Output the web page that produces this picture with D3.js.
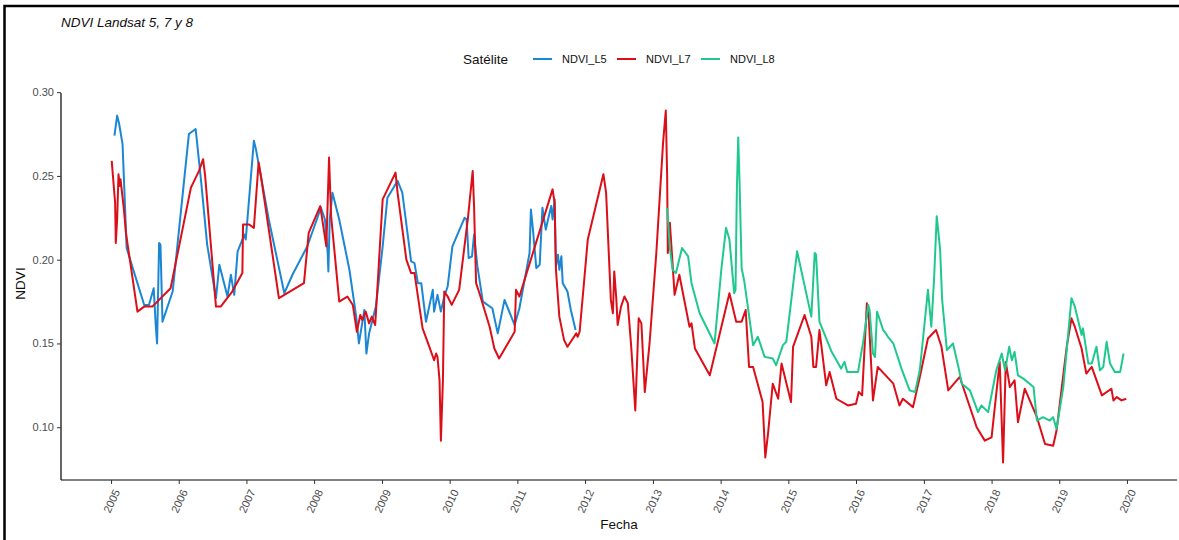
<!DOCTYPE html>
<html>
<head>
<meta charset="utf-8">
<script src="https://cdn.jsdelivr.net/npm/d3@7"></script>
<style>
  body { margin: 0; background: #fff; }
  svg { display: block; font-family: 'Liberation Sans', Arial, sans-serif; }
</style>
</head>
<body>
<script>
// fechas en años decimales, NDVI medio por escena

const fechaL5 = [2005.05,2005.09,2005.12,2005.17,2005.23,2005.29,2005.49,2005.56,2005.63,2005.66,
  2005.68,2005.71,2005.73,2005.76,2005.91,2006.15,2006.25,2006.33,2006.42,2006.55,
  2006.60,2006.72,2006.77,2006.82,2006.87,2006.97,2006.99,2007.11,2007.14,2007.24,
  2007.33,2007.56,2007.68,2007.90,2008.10,2008.16,2008.20,2008.21,2008.23,2008.27,
  2008.37,2008.52,2008.62,2008.66,2008.74,2008.77,2008.81,2008.91,2009.01,2009.08,
  2009.23,2009.30,2009.43,2009.48,2009.53,2009.58,2009.65,2009.75,2009.77,2009.82,
  2009.87,2009.92,2009.97,2010.04,2010.22,2010.25,2010.28,2010.33,2010.36,2010.41,
  2010.49,2010.63,2010.71,2010.81,2010.96,2011.03,2011.18,2011.20,2011.23,2011.28,
  2011.33,2011.37,2011.42,2011.47,2011.50,2011.52,2011.55,2011.57,2011.60,2011.62,
  2011.65,2011.67,2011.74,2011.79,2011.86]
const ndviL5 = [0.274,0.286,0.281,0.269,0.207,0.199,0.173,0.173,0.183,0.161,
  0.150,0.210,0.209,0.163,0.181,0.275,0.278,0.247,0.209,0.177,
  0.197,0.178,0.191,0.179,0.205,0.215,0.212,0.271,0.266,0.244,
  0.224,0.180,0.191,0.208,0.231,0.224,0.204,0.193,0.224,0.240,
  0.224,0.194,0.166,0.150,0.170,0.144,0.156,0.172,0.208,0.237,
  0.247,0.240,0.199,0.198,0.186,0.186,0.163,0.182,0.169,0.179,
  0.169,0.178,0.184,0.208,0.225,0.224,0.201,0.202,0.215,0.196,
  0.175,0.171,0.156,0.176,0.161,0.171,0.204,0.230,0.218,0.195,
  0.197,0.231,0.218,0.227,0.232,0.224,0.236,0.196,0.203,0.194,
  0.202,0.186,0.181,0.170,0.158]

const fechaL7 = [2005.01,2005.06,2005.07,2005.09,2005.11,2005.13,2005.14,2005.19,2005.22,2005.39,
  2005.49,2005.61,2005.88,2006.18,2006.30,2006.36,2006.39,2006.55,2006.62,2006.79,
  2006.94,2006.95,2007.04,2007.11,2007.18,2007.21,2007.48,2007.85,2007.92,2008.09,
  2008.18,2008.22,2008.25,2008.30,2008.37,2008.49,2008.57,2008.63,2008.68,2008.71,
  2008.76,2008.81,2008.85,2008.90,2009.01,2009.20,2009.23,2009.36,2009.43,2009.48,
  2009.60,2009.70,2009.77,2009.80,2009.82,2009.85,2009.87,2009.90,2009.92,2009.97,
  2010.03,2010.14,2010.27,2010.34,2010.36,2010.39,2010.44,2010.59,2010.66,2010.73,
  2010.96,2010.98,2011.03,2011.52,2011.55,2011.57,2011.62,2011.69,2011.74,2011.87,
  2011.89,2011.92,2012.04,2012.27,2012.31,2012.38,2012.41,2012.43,2012.46,2012.48,
  2012.53,2012.58,2012.63,2012.68,2012.74,2012.79,2012.83,2012.88,2012.95,2013.05,
  2013.15,2013.19,2013.21,2013.22,2013.25,2013.32,2013.39,2013.54,2013.57,2013.62,
  2013.84,2014.13,2014.23,2014.31,2014.37,2014.42,2014.48,2014.62,2014.66,2014.70,
  2014.77,2014.85,2014.90,2015.04,2015.07,2015.24,2015.34,2015.37,2015.41,2015.46,
  2015.56,2015.61,2015.71,2015.88,2016.00,2016.04,2016.09,2016.16,2016.19,2016.25,
  2016.32,2016.55,2016.64,2016.69,2016.84,2016.94,2017.06,2017.18,2017.26,2017.36,
  2017.53,2017.78,2017.90,2018.00,2018.12,2018.17,2018.21,2018.27,2018.34,2018.39,
  2018.49,2018.67,2018.79,2018.91,2018.96,2019.11,2019.18,2019.23,2019.33,2019.40,
  2019.48,2019.63,2019.77,2019.80,2019.85,2019.92,2019.99]
const ndviL7 = [0.259,0.234,0.210,0.224,0.251,0.244,0.248,0.230,0.216,0.169,
  0.172,0.172,0.183,0.243,0.253,0.260,0.250,0.172,0.172,0.181,
  0.192,0.221,0.221,0.219,0.258,0.251,0.177,0.186,0.216,0.232,
  0.208,0.261,0.226,0.205,0.175,0.178,0.173,0.157,0.167,0.164,
  0.169,0.162,0.166,0.161,0.236,0.252,0.240,0.200,0.192,0.192,
  0.159,0.148,0.140,0.144,0.142,0.128,0.092,0.128,0.181,0.178,
  0.173,0.182,0.225,0.253,0.232,0.186,0.180,0.160,0.147,0.141,
  0.157,0.182,0.178,0.242,0.234,0.194,0.166,0.152,0.148,0.156,
  0.154,0.157,0.212,0.251,0.240,0.176,0.168,0.193,0.177,0.161,
  0.172,0.178,0.174,0.148,0.110,0.165,0.162,0.121,0.150,0.204,
  0.270,0.289,0.250,0.204,0.222,0.179,0.191,0.160,0.162,0.147,
  0.131,0.180,0.163,0.163,0.170,0.136,0.136,0.115,0.082,0.096,
  0.126,0.117,0.138,0.115,0.148,0.167,0.154,0.136,0.136,0.158,
  0.125,0.133,0.117,0.113,0.114,0.121,0.119,0.174,0.164,0.116,
  0.136,0.126,0.113,0.117,0.112,0.130,0.153,0.158,0.148,0.122,
  0.130,0.100,0.092,0.094,0.139,0.079,0.139,0.124,0.128,0.103,
  0.123,0.106,0.090,0.089,0.098,0.148,0.165,0.160,0.147,0.132,
  0.136,0.119,0.123,0.116,0.118,0.116,0.117]

const fechaL8 = [2013.21,2013.25,2013.29,2013.34,2013.43,2013.52,2013.57,2013.69,2013.91,2014.01,
  2014.08,2014.13,2014.20,2014.22,2014.24,2014.26,2014.28,2014.31,2014.35,2014.48,
  2014.55,2014.65,2014.77,2014.82,2014.92,2014.97,2015.13,2015.34,2015.39,2015.41,
  2015.46,2015.64,2015.78,2015.83,2015.87,2016.03,2016.11,2016.18,2016.20,2016.25,
  2016.28,2016.31,2016.40,2016.44,2016.47,2016.55,2016.67,2016.79,2016.87,2016.94,
  2017.06,2017.11,2017.15,2017.19,2017.24,2017.27,2017.34,2017.43,2017.51,2017.56,
  2017.68,2017.80,2017.85,2017.95,2018.07,2018.15,2018.20,2018.26,2018.30,2018.34,
  2018.39,2018.47,2018.62,2018.67,2018.76,2018.86,2018.91,2018.96,2019.06,2019.18,
  2019.23,2019.33,2019.35,2019.43,2019.48,2019.55,2019.60,2019.65,2019.70,2019.75,
  2019.82,2019.90,2019.95]
const ndviL8 = [0.231,0.207,0.194,0.192,0.207,0.202,0.186,0.168,0.150,0.194,
  0.219,0.212,0.180,0.182,0.242,0.273,0.246,0.195,0.187,0.149,
  0.154,0.142,0.141,0.137,0.149,0.151,0.205,0.166,0.204,0.203,
  0.163,0.145,0.135,0.139,0.133,0.133,0.152,0.173,0.170,0.144,
  0.142,0.169,0.158,0.156,0.154,0.150,0.135,0.122,0.121,0.134,
  0.182,0.160,0.188,0.226,0.206,0.176,0.146,0.150,0.136,0.126,
  0.122,0.109,0.113,0.109,0.134,0.144,0.134,0.148,0.140,0.145,
  0.131,0.129,0.124,0.104,0.106,0.104,0.106,0.099,0.124,0.177,
  0.172,0.155,0.159,0.138,0.138,0.148,0.134,0.136,0.151,0.138,
  0.133,0.133,0.144]

const satelites = ['NDVI_L5', 'NDVI_L7', 'NDVI_L8']
const colores = ['#1b87d4', '#dc0e18', '#1fc98d']
const yTicks = [0.10, 0.15, 0.20, 0.25, 0.30]

function decToDate(y) {
  const yr = Math.floor(y)
  const a = new Date(yr, 0, 1), b = new Date(yr + 1, 0, 1)
  return new Date(+a + (y - yr) * (b - a))
}

const series = [
  { name: satelites[0], color: colores[0], values: fechaL5.map((f, i) => ({ date: decToDate(f), v: ndviL5[i] })) },
  { name: satelites[1], color: colores[1], values: fechaL7.map((f, i) => ({ date: decToDate(f), v: ndviL7[i] })) },
  { name: satelites[2], color: colores[2], values: fechaL8.map((f, i) => ({ date: decToDate(f), v: ndviL8[i] })) },
]

const W = 1179, H = 540
const panel = { left: 61, right: 1177, top: 93, bottom: 480 }

const allPts = series.flatMap(s => s.values)
const xExt = d3.extent(allPts, d => +d.date)
const xPad = (xExt[1] - xExt[0]) * 0.05
const yExt = d3.extent(allPts, d => d.v)
const yPad = (yExt[1] - yExt[0]) * 0.05

const x = d3.scaleTime()
  .domain([new Date(xExt[0] - xPad), new Date(xExt[1] + xPad)])
  .range([panel.left, panel.right])
const y = d3.scaleLinear()
  .domain([yExt[0] - yPad, yExt[1] + yPad])
  .range([panel.bottom, panel.top])

const svg = d3.create('svg')
  .attr('width', W)
  .attr('height', H)

svg.append('rect').attr('width', W).attr('height', H).attr('fill', '#fff')

// marco exterior
svg.append('rect')
  .attr('x', 4.5).attr('y', 6)
  .attr('width', W + 20).attr('height', H + 20)
  .attr('fill', 'none').attr('stroke', '#000').attr('stroke-width', 2.5)

// título
svg.append('text')
  .attr('x', 61).attr('y', 27)
  .attr('font-size', 13.5)
  .attr('font-style', 'italic')
  .attr('fill', '#111')
  .text('NDVI Landsat 5, 7 y 8')

// líneas
const line = d3.line().x(d => x(d.date)).y(d => y(d.v))
svg.append('g')
  .selectAll('path')
  .data(series)
  .join('path')
  .attr('d', d => line(d.values))
  .attr('fill', 'none')
  .attr('stroke', d => d.color)
  .attr('stroke-width', 2)
  .attr('stroke-linejoin', 'round')

// eje y
const yAxis = svg.append('g')
  .attr('transform', `translate(${panel.left},0)`)
  .call(d3.axisLeft(y).tickValues(yTicks).tickFormat(d3.format('.2f')).tickSize(4).tickPadding(3))
yAxis.select('.domain').attr('stroke', '#000').attr('stroke-width', 1.2)
  .attr('d', `M0,${panel.bottom}V${panel.top}`)
yAxis.selectAll('.tick line').attr('stroke', '#333')
yAxis.selectAll('.tick text').attr('fill', '#4d4d4d').attr('font-size', 11)
  .attr('font-family', "'Liberation Sans', Arial, sans-serif")

// eje x
const years = d3.range(2005, 2021).map(yr => new Date(yr, 0, 1))
const xAxis = svg.append('g')
  .attr('transform', `translate(0,${panel.bottom})`)
  .call(d3.axisBottom(x).tickValues(years).tickFormat(d3.timeFormat('%Y')).tickSize(4))
xAxis.select('.domain').attr('stroke', '#000').attr('stroke-width', 1.2)
  .attr('d', `M${panel.left},0H${panel.right}`)
xAxis.selectAll('.tick line').attr('stroke', '#333')
xAxis.selectAll('.tick text')
  .attr('fill', '#4d4d4d').attr('font-size', 11)
  .attr('font-family', "'Liberation Sans', Arial, sans-serif")
  .attr('y', 0).attr('dy', null)
  .attr('text-anchor', 'middle')
  .attr('dominant-baseline', 'central')
  .attr('transform', 'translate(0,21) rotate(-65)')

// títulos de ejes
svg.append('text')
  .attr('x', (panel.left + panel.right) / 2).attr('y', 529)
  .attr('text-anchor', 'middle')
  .attr('font-size', 13.5)
  .attr('fill', '#111')
  .text('Fecha')

svg.append('text')
  .attr('transform', `translate(25,${(panel.top + panel.bottom) / 2 - 3}) rotate(-90)`)
  .attr('text-anchor', 'middle')
  .attr('font-size', 13.5)
  .attr('fill', '#111')
  .text('NDVI')

// leyenda
const leg = svg.append('g').attr('transform', 'translate(0,59)')
leg.append('text')
  .attr('x', 463).attr('y', 0).attr('dy', '0.35em')
  .attr('font-size', 13.5).attr('fill', '#111')
  .text('Satélite')
const legX = [533, 617, 701]
const items = leg.selectAll('g.item')
  .data(series)
  .join('g')
  .attr('class', 'item')
  .attr('transform', (d, i) => `translate(${legX[i]},0)`)
items.append('line')
  .attr('x1', 0).attr('x2', 19)
  .attr('stroke', d => d.color).attr('stroke-width', 2)
items.append('text')
  .attr('x', 29).attr('dy', '0.35em')
  .attr('font-size', 11).attr('fill', '#111')
  .text(d => d.name)

document.body.appendChild(svg.node())
</script>
</body>
</html>
